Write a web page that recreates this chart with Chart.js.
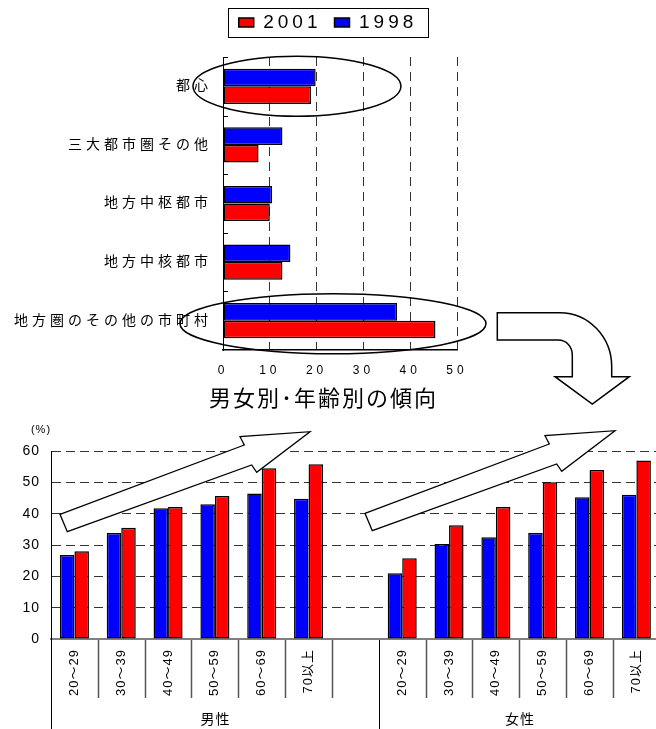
<!DOCTYPE html>
<html lang="ja">
<head>
<meta charset="utf-8">
<title>地域別・男女別・年齢別の傾向</title>
<script src="https://cdn.jsdelivr.net/npm/chart.js@4.4.1/dist/chart.umd.min.js"></script>
<style>
  html, body { margin: 0; padding: 0; background: #fff; overflow: hidden; }
  #wrap { position: relative; width: 656px; height: 729px; overflow: hidden; }
  #areaChart { position: absolute; left: 0; top: 0; }
  #ageChart { position: absolute; left: 0; top: 380px; }
</style>
</head>
<body>
<div id="wrap">
  <canvas id="areaChart" width="656" height="410" style="width:656px;height:410px"></canvas>
  <canvas id="ageChart" width="662" height="349" style="width:662px;height:349px"></canvas>
</div>
<script>
const FONT = '"Liberation Sans", "Noto Sans CJK JP", sans-serif';
Chart.defaults.font.family = FONT;
Chart.defaults.color = '#000';
Chart.defaults.animation = false;

// top chart: by area type
const yearLabels = ['1998', '2001'];
const areaLabels = ['都心', '三大都市圏その他', '地方中枢都市', '地方中核都市', '地方圏のその他の市町村'];
const area1998 = [19.8, 12.7, 10.5, 14.4, 37.2];
const area2001 = [18.8, 7.6, 10.0, 12.7, 45.4];
const areaMax = 50;
const areaStep = 10;

// bottom chart: by sex and age
const ageTitle = '男女別･年齢別の傾向';
const ageUnit = '(%)';
const groupLabels = ['男性', '女性'];
const ageLabels = ['20～29', '30～39', '40～49', '50～59', '60～69', '70以上'];
const male1998 = [26.8, 33.8, 41.7, 43.0, 46.4, 44.8];
const male2001 = [28.0, 35.5, 42.1, 45.6, 54.5, 55.8];
const female1998 = [21.0, 30.3, 32.5, 33.8, 45.2, 46.0];
const female2001 = [25.8, 36.3, 42.1, 50.0, 53.9, 57.0];
const ageMax = 60;
const ageStep = 10;

const BLUE = '#0000ff';
const RED = '#ff0000';
const hideZero = ctx => (ctx.tick && ctx.tick.value === 0) ? 'rgba(0,0,0,0)' : '#333';

// white block arrows drawn over the bottom chart (canvas px)
const trendArrow = [[60, 134.3], [244.3, 65], [240, 56.7], [310, 51.7], [256.7, 92.3], [251.7, 85], [67.3, 151.7]];

function drawBendArrow(ctx) {
  ctx.beginPath();
  ctx.moveTo(497.3, 312.7);
  ctx.lineTo(560, 312.7);
  ctx.bezierCurveTo(588.6, 312.7, 611.7, 337, 611.7, 366.7);
  ctx.lineTo(611.7, 376.7);
  ctx.lineTo(629.3, 376.7);
  ctx.lineTo(592.3, 404);
  ctx.lineTo(555, 376.7);
  ctx.lineTo(572.3, 376.7);
  ctx.lineTo(572.3, 355);
  ctx.bezierCurveTo(572.3, 346.7, 566.6, 340, 558, 340);
  ctx.lineTo(497.3, 340);
  ctx.closePath();
  ctx.fillStyle = '#fff';
  ctx.fill();
  ctx.stroke();
}

const areaDecor = {
  id: 'areaDecor',
  beforeUpdate(chart) { chart.ctx.letterSpacing = '4px'; },
  beforeDraw(chart) { chart.ctx.letterSpacing = '4px'; },
  afterDraw(chart) {
    const ctx = chart.ctx;
    const xs = chart.scales.x, ys = chart.scales.y;
    ctx.save();
    ctx.strokeStyle = '#000';

    // frame round the legend
    const boxes = chart.legend.legendHitBoxes;
    const l = Math.min(...boxes.map(b => b.left)) - 11;
    const r = Math.max(...boxes.map(b => b.left + b.width)) + 10;
    const cy = boxes[0].top + boxes[0].height / 2;
    ctx.lineWidth = 1;
    ctx.strokeRect(Math.round(l) + 0.5, Math.round(cy - 14.5) + 0.5, Math.round(r - l), 29);

    // short inner ticks between categories
    const step = ys.getPixelForTick(1) - ys.getPixelForTick(0);
    for (let i = 0; i < areaLabels.length; i++) {
      const y = Math.round(ys.getPixelForTick(i) - step / 2) + 0.5;
      ctx.beginPath(); ctx.moveTo(xs.left, y); ctx.lineTo(xs.left + 5, y); ctx.stroke();
    }

    // ellipses on 都心 and 地方圏
    ctx.lineWidth = 1.5;
    [[0, 15.8, 0, 104], [4, 23.5, 3, 153]].forEach(([idx, v, dy, rx]) => {
      ctx.beginPath();
      ctx.ellipse(xs.getPixelForValue(v), ys.getPixelForTick(idx) + dy, rx, 30, 0, 0, Math.PI * 2);
      ctx.stroke();
    });

    drawBendArrow(ctx);
    ctx.restore();
  }
};

new Chart(document.getElementById('areaChart'), {
  type: 'bar',
  data: {
    labels: areaLabels,
    datasets: [
      { label: yearLabels[0], data: area1998, backgroundColor: BLUE, borderColor: '#000', borderWidth: 1.5, borderSkipped: false },
      { label: yearLabels[1], data: area2001, backgroundColor: RED, borderColor: '#000', borderWidth: 1.5, borderSkipped: false }
    ]
  },
  options: {
    responsive: false,
    indexAxis: 'y',
    categoryPercentage: 0.6,
    barPercentage: 1,
    layout: { padding: 0 },
    plugins: {
      legend: {
        position: 'top',
        reverse: true,
        labels: { boxWidth: 15, boxHeight: 9, padding: 13, font: { size: 19 } }
      },
      tooltip: { enabled: false }
    },
    scales: {
      x: {
        type: 'linear', position: 'bottom', min: 0, max: areaMax,
        ticks: { stepSize: areaStep, padding: 13, font: { size: 12 } },
        grid: { color: hideZero, drawTicks: false },
        border: { color: '#000', width: 1.5, dash: [9, 6] },
        afterFit: s => { s.height = 60; }
      },
      y: {
        position: 'left',
        grid: { display: false, drawTicks: false },
        border: { color: '#000', width: 1 },
        ticks: { autoSkip: false, padding: 11, font: { size: 14 } },
        afterFit: s => { s.width = 223; }
      },
      xTop: {
        type: 'linear', position: 'top', display: true,
        grid: { display: false, drawTicks: false }, border: { display: false }, ticks: { display: false },
        afterFit: s => { s.height = 15; }
      },
      yRight: {
        type: 'linear', position: 'right', display: true,
        grid: { display: false, drawTicks: false }, border: { display: false }, ticks: { display: false },
        afterFit: s => { s.width = 199; }
      }
    }
  },
  plugins: [areaDecor]
});

// bottom chart
const xLabels = [...ageLabels, '', ...ageLabels];
const groupEdges = [0, ageLabels.length + 1, xLabels.length];

const ageDecor = {
  id: 'ageDecor',
  beforeUpdate(chart) { chart.ctx.letterSpacing = '1px'; },
  beforeDraw(chart) { chart.ctx.letterSpacing = '1px'; },
  afterDatasetsDraw(chart) {
    const ctx = chart.ctx;
    ctx.save();
    ctx.fillStyle = '#fff';
    ctx.strokeStyle = '#000';
    ctx.lineWidth = 1.3;
    [[0, 0], [305, -1]].forEach(([dx, dy]) => {
      ctx.beginPath();
      trendArrow.forEach(([x, y], i) => i ? ctx.lineTo(x + dx, y + dy) : ctx.moveTo(x + dx, y + dy));
      ctx.closePath();
      ctx.fill();
      ctx.stroke();
    });
    ctx.restore();
  },
  afterDraw(chart) {
    const ctx = chart.ctx;
    const xs = chart.scales.x, ys = chart.scales.y;
    const ca = chart.chartArea;
    ctx.save();

    // category separators below the axis
    const w = xs.getPixelForTick(1) - xs.getPixelForTick(0);
    const edgeX = i => Math.round(xs.getPixelForTick(0) - w / 2 + i * w) + 0.5;
    for (let i = 0; i <= xLabels.length; i++) {
      const long = groupEdges.includes(i);
      ctx.strokeStyle = long ? '#000' : '#555';
      ctx.lineWidth = long ? 1 : 1.5;
      ctx.beginPath();
      ctx.moveTo(edgeX(i), ca.bottom + 1);
      ctx.lineTo(edgeX(i), long ? chart.height : ca.bottom + 59);
      ctx.stroke();
    }

    ctx.fillStyle = '#000';
    ctx.textAlign = 'center';
    ctx.textBaseline = 'middle';

    // group names
    ctx.font = '14px ' + FONT;
    groupLabels.forEach((g, k) => {
      const cx = (edgeX(groupEdges[k]) + edgeX(groupEdges[k + 1])) / 2;
      ctx.fillText(g, cx, ca.bottom + 81);
    });

    // unit
    ctx.font = '11px ' + FONT;
    ctx.fillText(ageUnit, ys.right - 10, ca.top - 21);

    // title
    ctx.letterSpacing = '2px';
    ctx.font = '22px ' + FONT;
    ctx.fillText(ageTitle, 323.5, 20);
    ctx.restore();
  }
};

new Chart(document.getElementById('ageChart'), {
  type: 'bar',
  data: {
    labels: xLabels,
    datasets: [
      { label: yearLabels[0], data: [...male1998, null, ...female1998], backgroundColor: BLUE, borderColor: '#000', borderWidth: 1.5, borderSkipped: false },
      { label: yearLabels[1], data: [...male2001, null, ...female2001], backgroundColor: RED, borderColor: '#000', borderWidth: 1.5, borderSkipped: false }
    ]
  },
  options: {
    responsive: false,
    categoryPercentage: 0.62,
    barPercentage: 1,
    layout: { padding: { top: 71, right: 1, left: 0, bottom: 0 } },
    plugins: { legend: { display: false }, tooltip: { enabled: false } },
    scales: {
      x: {
        grid: { display: false, drawTicks: false },
        border: { color: '#808080', width: 2 },
        ticks: { minRotation: 90, maxRotation: 90, autoSkip: false, padding: 10, font: { size: 13 } },
        afterFit: s => { s.height = 90; }
      },
      y: {
        min: 0, max: ageMax,
        ticks: { stepSize: ageStep, padding: 11, font: { size: 14 } },
        grid: { color: hideZero, drawTicks: false },
        border: { color: '#000', width: 1, dash: [9, 5] },
        afterFit: s => { s.width = 51; }
      }
    }
  },
  plugins: [ageDecor]
});
</script>
</body>
</html>
